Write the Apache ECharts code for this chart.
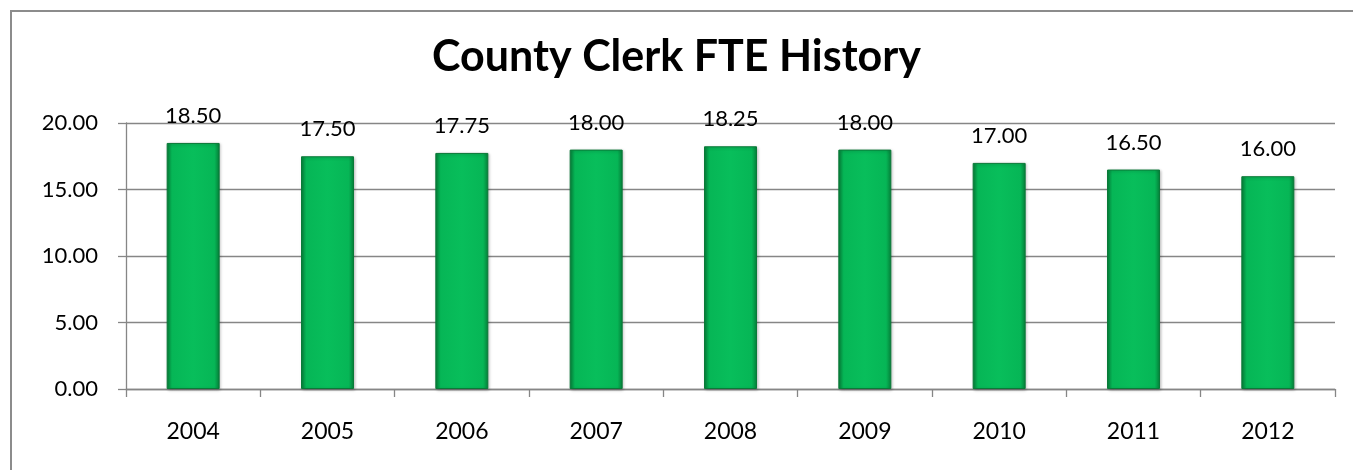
<!DOCTYPE html>
<html>
<head>
<meta charset="utf-8">
<script src="https://cdn.jsdelivr.net/npm/echarts@6/dist/echarts.min.js"></script>
<style>
    html, body { margin: 0; padding: 0; background: #fff; }
    #frame {
        position: absolute;
        left: 10px;
        top: 10px;
        width: 1360px;
        height: 480px;
        border-top: 2px solid #8c8c8c;
        border-left: 2px solid #8c8c8c;
    }
    #chart { position: absolute; left: 0; top: 0; width: 1353px; height: 470px; }
</style>
</head>
<body>
<div id="frame"></div>
<div id="chart"></div>
<script>
const years = ['2004', '2005', '2006', '2007', '2008', '2009', '2010', '2011', '2012'];
const fte = [18.5, 17.5, 17.75, 18.0, 18.25, 18.0, 17.0, 16.5, 16.0];
const yTicks = [0, 5, 10, 15, 20];

const myChart = echarts.init(document.getElementById('chart'), null, { renderer: 'canvas' });

const font = 'Lato';
const gray = '#868686';

// green bar with darker sides, like the beveled Excel look
const barColor = new echarts.graphic.LinearGradient(0, 0, 1, 0, [
    { offset: 0, color: '#06803a' },
    { offset: 0.1, color: '#06b656' },
    { offset: 0.5, color: '#08be5b' },
    { offset: 0.9, color: '#06b656' },
    { offset: 1, color: '#06803a' }
]);

const option = {
    backgroundColor: 'transparent',
    animation: false,
    title: {
        text: 'County Clerk FTE History',
        left: 'center',
        top: 31,
        textStyle: {
            fontFamily: font,
            fontSize: 43,
            fontWeight: 'bold',
            color: '#000'
        }
    },
    grid: {
        left: 126,
        right: 18,
        top: 123,
        bottom: 81
    },
    xAxis: {
        type: 'category',
        data: years,
        axisLine: { lineStyle: { color: gray, width: 1.3 } },
        axisTick: { show: true, length: 8, lineStyle: { color: gray, width: 1.3 } },
        axisLabel: {
            margin: 31,
            fontFamily: font,
            fontSize: 23,
            color: '#000'
        }
    },
    yAxis: {
        type: 'value',
        min: yTicks[0],
        max: yTicks[yTicks.length - 1],
        interval: 5,
        axisLine: { show: true, lineStyle: { color: gray, width: 1.3 } },
        axisTick: { show: true, length: 8, lineStyle: { color: gray, width: 1.3 } },
        splitLine: { lineStyle: { color: gray, width: 1.3 } },
        axisLabel: {
            margin: 28,
            fontFamily: font,
            fontSize: 22,
            color: '#000',
            formatter: (v) => v.toFixed(2)
        }
    },
    series: [{
        type: 'bar',
        data: fte,
        barWidth: 53,
        itemStyle: {
            color: barColor,
            borderColor: '#0a7a38',
            borderWidth: 1,
            shadowColor: 'rgba(0,0,0,0.25)',
            shadowBlur: 3,
            shadowOffsetX: 1,
            shadowOffsetY: 1
        },
        label: {
            show: true,
            position: 'top',
            distance: 16,
            fontFamily: font,
            fontSize: 22,
            color: '#000',
            formatter: (p) => p.value.toFixed(2)
        }
    }]
};

myChart.setOption(option, true);
window.addEventListener('resize', () => myChart.resize());
</script>
</body>
</html>
